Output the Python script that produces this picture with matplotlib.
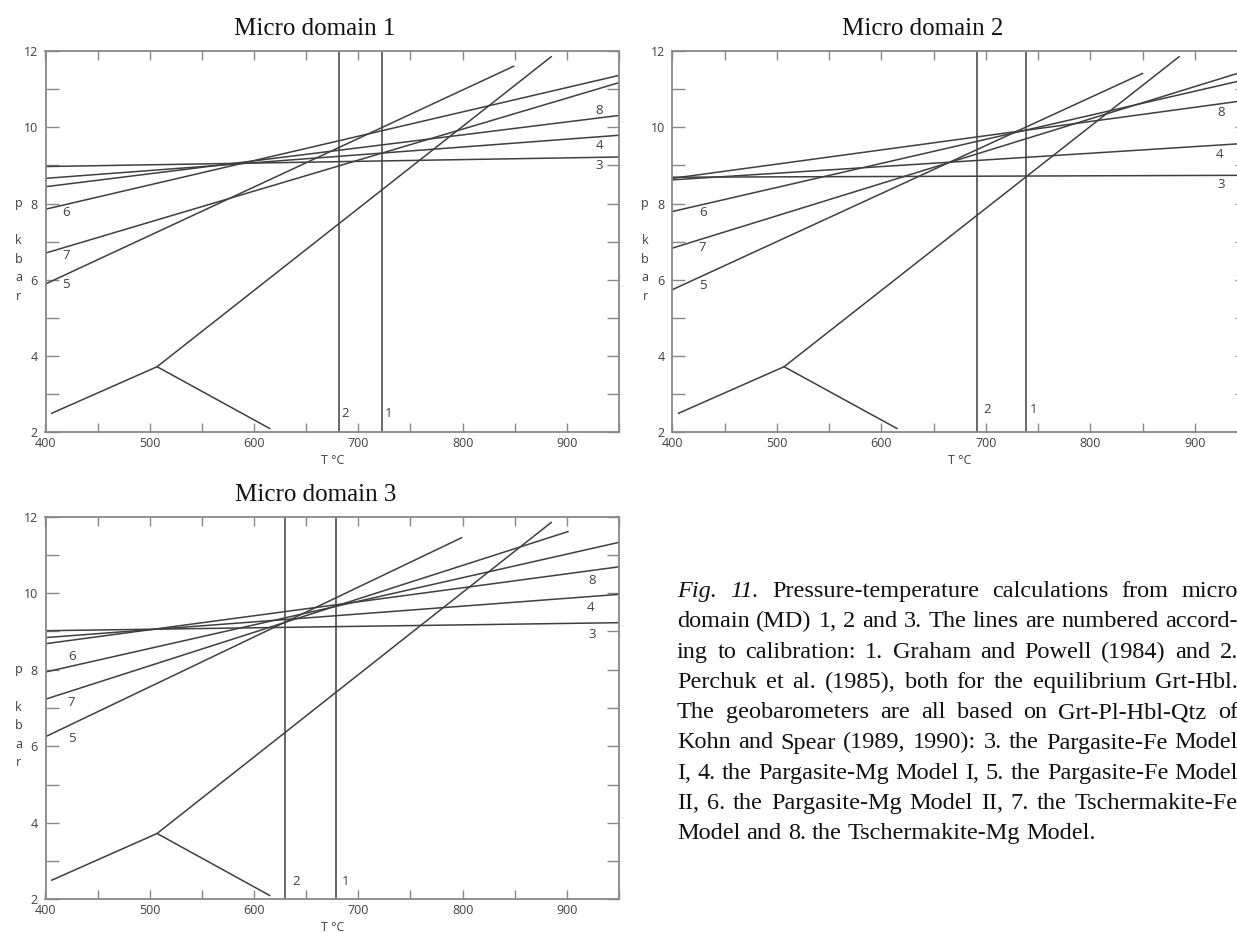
import matplotlib
matplotlib.use("Agg")
import matplotlib.pyplot as plt

plt.rcParams["font.family"] = ["Open Sans", "DejaVu Sans"]

# Al2SiO5 triple point lines, same in every micro domain
ky_sil_T = [406, 507, 885]
ky_sil_P = [2.5, 3.72, 11.85]
and_T = [507, 615]
and_P = [3.72, 2.1]

line_ids = ["3", "4", "5", "6", "7", "8"]

# micro domain 1: thermometers 1, 2 (T in °C), barometers 3..8 (start/end T, P)
md1_thermo = [723, 681]
md1_t0 = [400, 400, 400, 400, 400, 400]
md1_p0 = [8.97, 8.66, 5.89, 7.85, 6.70, 8.44]
md1_t1 = [950, 950, 849, 950, 950, 950]
md1_p1 = [9.22, 9.79, 11.60, 11.36, 11.17, 10.31]

# micro domain 2
md2_thermo = [738.5, 692]
md2_t0 = [400, 400, 400, 400, 400, 400]
md2_p0 = [8.69, 8.62, 5.74, 7.79, 6.83, 8.66]
md2_t1 = [950, 950, 850, 950, 950, 950]
md2_p1 = [8.74, 9.58, 11.41, 11.26, 11.49, 10.71]

# micro domain 3
md3_thermo = [679, 630]
md3_t0 = [400, 400, 400, 400, 400, 400]
md3_p0 = [9.02, 8.84, 6.25, 7.94, 7.23, 8.68]
md3_t1 = [950, 950, 799, 950, 901, 950]
md3_p1 = [9.23, 9.97, 11.45, 11.33, 11.61, 10.69]

caption = [
    "Fig. 11. Pressure-temperature calculations from micro",
    "domain (MD) 1, 2 and 3. The lines are numbered accord-",
    "ing to calibration: 1. Graham and Powell (1984) and 2.",
    "Perchuk et al. (1985), both for the equilibrium Grt-Hbl.",
    "The geobarometers are all based on Grt-Pl-Hbl-Qtz of",
    "Kohn and Spear (1989, 1990): 3. the Pargasite-Fe Model",
    "I, 4. the Pargasite-Mg Model I, 5. the Pargasite-Fe Model",
    "II, 6. the Pargasite-Mg Model II, 7. the Tschermakite-Fe",
    "Model and 8. the Tschermakite-Mg Model.",
]

W, H = 1237, 933
line_c = "#3f3f3f"
spine_c = "#888888"
text_c = "#404040"
serif = ["Liberation Serif", "DejaVu Serif"]

fig = plt.figure(figsize=(W / 100, H / 100), dpi=100)
fig.patch.set_facecolor("white")


def px_box(left, top, right, bottom):
    return [left / W, 1 - bottom / H, (right - left) / W, (bottom - top) / H]


def draw_panel(box, title, title_x, title_base, thermo, t0, p0, t1, p1, label_pos):
    ax = fig.add_axes(px_box(*box))
    ax.plot(ky_sil_T, ky_sil_P, color=line_c, lw=1.1)
    ax.plot(and_T, and_P, color=line_c, lw=1.1)
    for T in thermo:
        ax.axvline(T, color=line_c, lw=1.1)
    for i in range(len(line_ids)):
        ax.plot([t0[i], t1[i]], [p0[i], p1[i]], color=line_c, lw=1.1)
    for lab, (x, y) in label_pos.items():
        ax.text(x, y, lab, ha="center", va="center", fontsize=9.5, color=text_c)

    ax.set_xlim(400, 950)
    ax.set_ylim(2, 12)
    xt = list(range(400, 951, 50))
    ax.set_xticks(xt)
    ax.set_xticklabels([str(v) if v % 100 == 0 else "" for v in xt])
    yt = list(range(2, 13))
    ax.set_yticks(yt)
    ax.set_yticklabels([str(v) if v % 2 == 0 else "" for v in yt])
    ax.tick_params(axis="x", direction="in", top=True, length=6.5, width=1.0,
                   color=spine_c, pad=3.5, labelsize=9, labelcolor=text_c)
    ax.tick_params(axis="y", direction="in", right=True, length=9, width=1.0,
                   color=spine_c, pad=5.5, labelsize=9, labelcolor=text_c)
    for s in ax.spines.values():
        s.set_color(spine_c)
        s.set_linewidth(1.3)

    ax.text(0.5, -0.073, "T °C", transform=ax.transAxes, ha="center", va="center",
            fontsize=9, color=text_c)
    for letter, y in zip("pkbar", [8.0, 7.02, 6.54, 6.05, 5.57]):
        ax.text(374, y, letter, ha="center", va="center", fontsize=9,
                color=text_c, clip_on=False)

    fig.text(title_x / W, 1 - title_base / H, title, ha="center", va="baseline",
             family=serif, fontsize=18, color="#111111")
    return ax


draw_panel((45.5, 51, 619, 432.3), "Micro domain 1", 315, 34.6,
           md1_thermo, md1_t0, md1_p0, md1_t1, md1_p1,
           {"8": (931, 10.43), "4": (931, 9.53), "3": (931, 9.01),
            "6": (420, 7.76), "7": (420, 6.63), "5": (420, 5.87),
            "2": (687, 2.5), "1": (729, 2.5)})

draw_panel((672.3, 51, 1247, 432.3), "Micro domain 2", 923, 34.6,
           md2_thermo, md2_t0, md2_p0, md2_t1, md2_p1,
           {"8": (925, 10.38), "4": (924, 9.29), "3": (925, 8.5),
            "6": (429, 7.76), "7": (429, 6.85), "5": (429, 5.86),
            "2": (701, 2.6), "1": (745.5, 2.6)})

draw_panel((45.5, 516.7, 619, 899.3), "Micro domain 3", 316, 500.5,
           md3_thermo, md3_t0, md3_p0, md3_t1, md3_p1,
           {"8": (924.5, 10.32), "4": (923, 9.62), "3": (924.5, 8.92),
            "6": (425, 8.34), "7": (425, 7.14), "5": (425, 6.2),
            "2": (640.5, 2.47), "1": (688, 2.47)})

# justified caption, built word by word
cap_size = 17.5
x_left, x_right = 677, 1238
base0, step = 597, 30.3
renderer = fig.canvas.get_renderer()
for k, line in enumerate(caption):
    words = line.split(" ")
    y = 1 - (base0 + k * step) / H
    arts = []
    for w in words:
        italic = k == 0 and w in ("Fig.", "11.")
        arts.append(fig.text(0, y, w, family=serif, fontsize=cap_size,
                             style="italic" if italic else "normal",
                             ha="left", va="baseline", color="#111111"))
    widths = [a.get_window_extent(renderer).width for a in arts]
    if k == len(caption) - 1:
        gap = 0.25 * cap_size * 100 / 72
    else:
        gap = (x_right - x_left - sum(widths)) / (len(words) - 1)
    x = x_left
    for a, w in zip(arts, widths):
        a.set_x(x / W)
        x += w + gap

fig.savefig("out.png", dpi=100, facecolor="white")
